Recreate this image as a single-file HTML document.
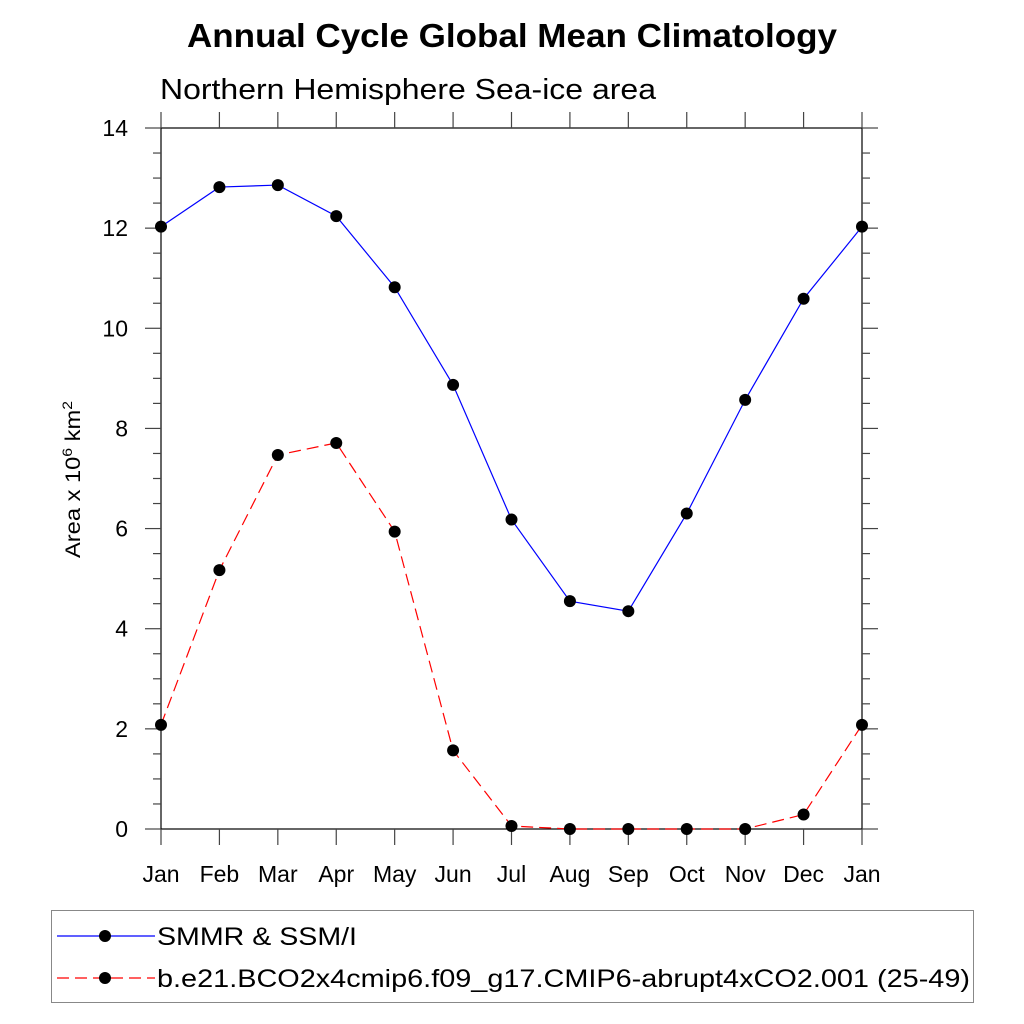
<!DOCTYPE html>
<html><head><meta charset="utf-8"><style>
body{margin:0;background:#fff}
svg{font-family:"Liberation Sans",sans-serif;display:block}
</style></head><body>
<svg id="c" width="1024" height="1024">
<text x="187" y="47" font-size="33" font-weight="bold" textLength="650" lengthAdjust="spacingAndGlyphs">Annual Cycle Global Mean Climatology</text>
<text x="160" y="99" font-size="29" textLength="496" lengthAdjust="spacingAndGlyphs">Northern Hemisphere Sea-ice area</text>
<text transform="translate(80,558) rotate(-90)" font-size="21" textLength="157" lengthAdjust="spacingAndGlyphs">Area x 10<tspan font-size="14" dy="-8">6</tspan><tspan dy="8"> km</tspan><tspan font-size="14" dy="-8">2</tspan></text>
<g id="axes"></g>
<g id="series"></g>
<g>
<rect x="51.5" y="910.5" width="922" height="92" fill="none" stroke="#888"/>
<g>
<line x1="57" y1="936" x2="155" y2="936" stroke="#00f" stroke-width="1.2"/>
<circle cx="105" cy="936" r="6" fill="#000"/>
<text x="157" y="945" font-size="25" textLength="200" lengthAdjust="spacingAndGlyphs">SMMR &amp; SSM/I</text></g>
<g>
<line x1="57" y1="978" x2="155" y2="978" stroke="#f00" stroke-width="1.2" stroke-dasharray="12,6"/>
<circle cx="105" cy="978" r="6" fill="#000"/>
<text x="157" y="987" font-size="25" textLength="813" lengthAdjust="spacingAndGlyphs">b.e21.BCO2x4cmip6.f09_g17.CMIP6-abrupt4xCO2.001 (25-49)</text></g>
</g>
</svg>
<script>
const months=["Jan","Feb","Mar","Apr","May","Jun","Jul","Aug","Sep","Oct","Nov","Dec","Jan"];
const obsValues=[12.03,12.82,12.86,12.24,10.82,8.87,6.18,4.55,4.35,6.30,8.57,10.59,12.03];
const modelValues=[2.08,5.17,7.47,7.71,5.94,1.57,0.06,0.0,0.0,0.0,0.0,0.29,2.08];
const yTicks=[0,2,4,6,8,10,12,14];
const L=161,R=862,T=128,B=829,yMax=14;
const xs=i=>L+(R-L)*i/(months.length-1);
const ys=v=>B-(B-T)*v/yMax;
const NS="http://www.w3.org/2000/svg";
function mk(tag,attrs,parent){const e=document.createElementNS(NS,tag);for(const k in attrs)e.setAttribute(k,attrs[k]);parent.appendChild(e);return e;}
const ax=document.getElementById('axes');
const fr=mk('rect',{x:L,y:T,width:R-L,height:B-T,fill:'none',stroke:'#000','stroke-width':1.2},ax);


months.forEach((m,i)=>{
  const x=xs(i);
  mk('line',{x1:x,y1:B,x2:x,y2:B+16,stroke:'#444','stroke-width':1.2},ax);
  mk('line',{x1:x,y1:T,x2:x,y2:T-16,stroke:'#444','stroke-width':1.2},ax);
  const t=mk('text',{x:x,y:B+53,'text-anchor':'middle','font-size':23},ax);
  t.textContent=m;
  
  
});
for(let v=0;v<=yMax+1e-9;v+=0.5){
  const y=ys(v),major=Math.abs(v-Math.round(v/2)*2)<1e-9,len=major?16:8;
  mk('line',{x1:L,y1:y,x2:L-len,y2:y,stroke:'#444','stroke-width':1.2},ax);
  mk('line',{x1:R,y1:y,x2:R+len,y2:y,stroke:'#444','stroke-width':1.2},ax);
}
yTicks.forEach(v=>{
  const t=mk('text',{x:L-33,y:ys(v)+8,'text-anchor':'end','font-size':23},ax);
  t.textContent=v;
  
  
});
const sg=document.getElementById('series');
function draw(vals,color,dash,name){
  const g=mk('g',{},sg);
  
  
  const pl=mk('polyline',{points:vals.map((v,i)=>xs(i)+','+ys(v)).join(' '),fill:'none',stroke:color,'stroke-width':1.2},g);
  if(dash)pl.setAttribute('stroke-dasharray',dash);
  vals.forEach((v,i)=>{
    const c=mk('circle',{cx:xs(i),cy:ys(v),r:6,fill:'#000'},g);
    
    
  });
}
draw(obsValues,'#00f',null,'series-obs');
draw(modelValues,'#f00','12,6','series-model');
</script>
</body></html>
